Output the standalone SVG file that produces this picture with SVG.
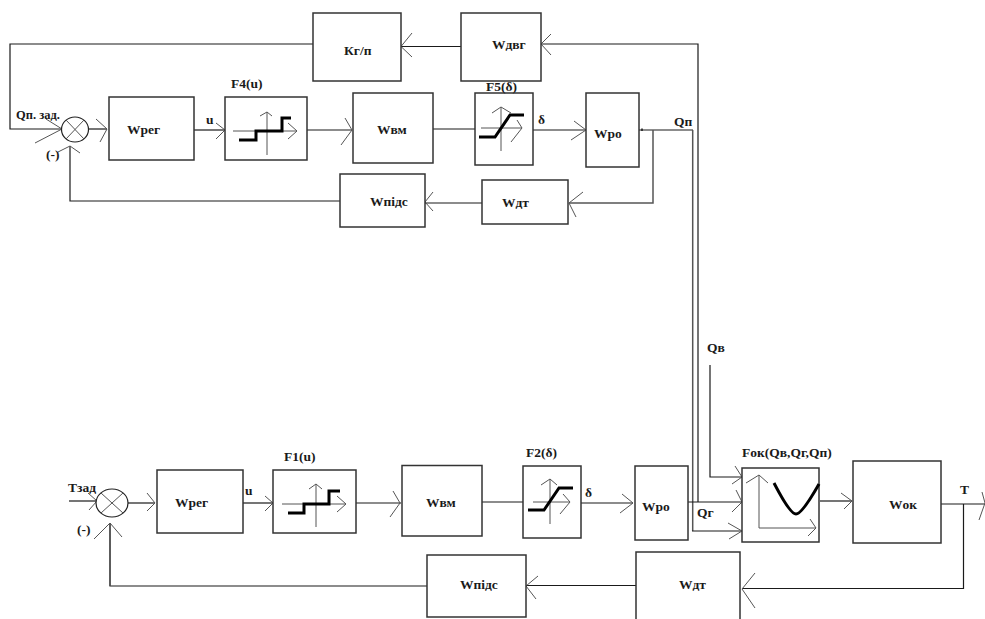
<svg xmlns="http://www.w3.org/2000/svg" width="985" height="619" viewBox="0 0 985 619">
<style>
rect.b{fill:#fff;stroke:#333;stroke-width:1.5}
path,line{fill:none;stroke:#1a1a1a;stroke-width:1.2}
.g{stroke:#555;stroke-width:1.5}
.h{stroke:#555;stroke-width:1}
.t{stroke:#000;stroke-width:3}
.x{stroke:#555;stroke-width:1}
ellipse{fill:#fff;stroke:#222;stroke-width:1.2}
text{font-family:"Liberation Serif","Times New Roman",serif;font-weight:bold;font-size:13.5px;fill:#1a1a1a}
</style>
<rect width="985" height="619" fill="#fff"/>
<g id="connectors">
<path d="M461 46.5H401"/><path class="h" d="M412 33L401 46.500L412 57"/>
<path d="M313 44H10V129H62"/><path class="h" d="M46 119L62 129L35 143"/>
<path d="M89 129H107"/><path class="h" d="M96 119L107 129L100 142"/>
<path d="M194 130H225"/><path class="h" d="M216 123L225 130L216 139"/>
<path d="M307 130H352"/><path class="h" d="M345 118L352 130L341 145"/>
<path d="M433 129H475"/>
<path d="M533 130H586"/><path class="h" d="M574 121L586 130L571 140"/>
<path d="M638 130H693"/><path d="M642 128.500V131" style="stroke-width:1.5"/>
<path class="g" d="M692.700 130V531"/>
<path d="M692 531H742"/><path class="h" d="M728 523L742 531L729 539"/>
<path d="M698 502V44H541"/><path class="h" d="M551 34L541 44L551 55"/>
<path d="M688 502H742"/><path class="h" d="M736 490L742 502L732 512"/>
<path d="M710 365V477H742"/><path class="h" d="M735 466L742 477L732 484"/>
<path class="g" d="M653 130V203H569"/><path class="h" d="M583 192L569 203L576 217"/>
<path d="M482 203H425"/><path class="h" d="M433 192L425 202L433 211"/>
<path d="M340 201H70V146"/><path class="h" d="M58 152L70 146L80 153"/>
<path d="M69 501H97"/><path class="h" d="M88 493L97 501L89 510"/>
<path d="M128 503H155"/><path class="h" d="M147 493L155 503L147 511"/>
<path d="M243 503H273"/><path class="h" d="M265 496L273 503L265 511"/>
<path d="M356 503H401"/><path class="h" d="M393 491L400 503L390 517"/>
<path d="M482 502H523"/>
<path d="M581 503H633"/><path class="h" d="M622 494L633 503L620 513"/>
<path d="M820 501H852"/><path class="h" d="M841 493L852 501L844 509"/>
<path d="M941 504H985"/><path class="h" d="M982 492L985 503L979 520"/>
<path d="M963.500 504V588.500H742"/><path class="h" d="M755 573L742 589L755 608"/>
<path d="M636 585.500H526"/><path class="h" d="M538 576L526 586L536 599"/>
<path d="M427 586H110V523"/><path class="g" d="M110 586V523"/><path class="h" d="M94 539L110 523L122 537"/>
</g>
<g id="sum1"><ellipse cx="75" cy="129.500" rx="13.500" ry="12.500"/><path class="x" d="M66 120L84 139M84 120L66 139"/></g>
<g id="sum2"><ellipse cx="112" cy="503" rx="16" ry="14"/><path class="x" d="M101 493L123 513M123 493L101 513"/></g>
<g id="Wreg1"><rect class="b" x="109" y="97" width="85" height="63"/><text x="127" y="134">Wрег</text></g>
<g id="F4"><rect class="b" x="225" y="97" width="82" height="63"/><path class="h" d="M233 131H297M288 123L297 131L288 139M267 155V112M260 116L267 112L272 116"/><path class="t" d="M239 140H256V131H282V118H291"/></g>
<g id="Kgp"><rect class="b" x="313" y="13" width="88" height="68"/><text x="344" y="55">Кг/п</text></g>
<g id="Wdvg"><rect class="b" x="461" y="13" width="80" height="68"/><text x="492" y="49">Wдвг</text></g>
<g id="Wvm1"><rect class="b" x="353" y="93" width="80" height="70"/><text x="377" y="134">Wвм</text></g>
<g id="F5"><rect class="b" x="475" y="93" width="58" height="72"/><path class="h" d="M481 128H522M517 120L522 128L511 142M501 151V107M492 113L501 107L511 113"/><path class="t" d="M479 137H495L510 115H524"/></g>
<g id="Wro1"><rect class="b" x="586" y="93" width="53" height="74"/><text x="594" y="138">Wро</text></g>
<g id="Wpids1"><rect class="b" x="340" y="174" width="85" height="53"/><text x="370" y="206">Wпідс</text></g>
<g id="Wdt1"><rect class="b" x="482" y="180" width="86" height="44"/><text x="502" y="207">Wдт</text></g>
<g id="Wreg2"><rect class="b" x="157" y="470" width="86" height="63"/><text x="175" y="507">Wрег</text></g>
<g id="F1"><rect class="b" x="273" y="470" width="83" height="63"/><path class="h" d="M282 504H346M337 496L346 504L337 512M316 527V484M309 489L316 484L322 489"/><path class="t" d="M288 513H304V504H329V491H340"/></g>
<g id="Wvm2"><rect class="b" x="402" y="465.500" width="80" height="70.500"/><text x="426" y="507">Wвм</text></g>
<g id="F2"><rect class="b" x="523" y="466" width="58" height="72"/><path class="h" d="M533 502H570M563 494L570 502L560 514M550 524V479M541 485L550 479L557 485"/><path class="t" d="M528 510H544L559 488H573"/></g>
<g id="Wro2"><rect class="b" x="635" y="466" width="53" height="74"/><text x="642" y="511">Wро</text></g>
<g id="Fok"><rect class="b" x="742" y="468" width="77" height="74"/><path class="h" d="M746 483L759 475L768 483M759 475V528H816M810 519L816 528L808 536"/><path class="t" d="M774 483Q790 514 796 514Q802 514 819 484"/></g>
<g id="Wok"><rect class="b" x="853" y="461" width="88" height="82"/><text x="889" y="509">Wок</text></g>
<g id="Wdt2"><rect class="b" x="636" y="552" width="104" height="72"/><text x="679" y="589">Wдт</text></g>
<g id="Wpids2"><rect class="b" x="427" y="555" width="99" height="62"/><text x="460" y="589">Wпідс</text></g>
<g id="labels">
<text x="16" y="119" style="font-size:12.500px">Qп. зад.</text>
<text x="206" y="124">u</text>
<text x="231" y="88">F4(u)</text>
<text x="46" y="159">(-)</text>
<text x="486" y="91">F5(δ)</text>
<text x="538" y="124">δ</text>
<text x="674" y="126">Qп</text>
<text x="707" y="352">Qв</text>
<text x="68" y="492">Тзад</text>
<text x="77" y="534">(-)</text>
<text x="245" y="495">u</text>
<text x="284" y="461">F1(u)</text>
<text x="526" y="457">F2(δ)</text>
<text x="585" y="497">δ</text>
<text x="697" y="517">Qг</text>
<text x="742" y="457">Fок(Qв,Qг,Qп)</text>
<text x="960" y="494">Т</text>
</g>
</svg>
